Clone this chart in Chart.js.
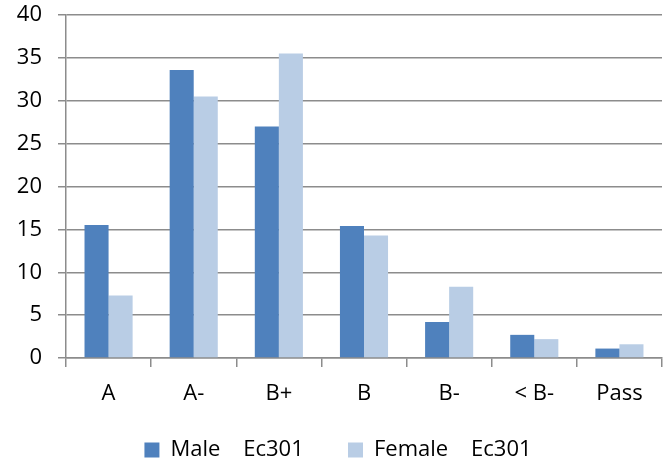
<!DOCTYPE html>
<html>
<head>
<meta charset="utf-8">
<script src="https://cdn.jsdelivr.net/npm/chart.js@4/dist/chart.umd.min.js"></script>
<style>
  html, body { margin: 0; padding: 0; background: #fff; }
  #wrap { width: 670px; height: 463px; }
</style>
</head>
<body>
<div id="wrap"><canvas id="c" width="670" height="463"></canvas></div>
<script>
// Grade distribution for Ec301 by gender (percent of students)
const grades = ['A', 'A-', 'B+', 'B', 'B-', '< B-', 'Pass'];
const maleValues = [15.5, 33.6, 27.0, 15.4, 4.2, 2.7, 1.1];
const femaleValues = [7.3, 30.5, 35.5, 14.3, 8.3, 2.2, 1.6];
const seriesNames = ['Male    Ec301      ', 'Female    Ec301'];
const yTicks = { min: 0, max: 40, step: 5 };

const FONT = '"Open Sans", Lato, sans-serif';
const gridGray = '#8c8c8c';

// nudge the legend row a little to the right of the canvas centre
const legendShift = {
  id: 'legendShift',
  afterLayout(chart) {
    const lg = chart.legend;
    if (lg) { lg.left += 7; lg.right += 7; }
  }
};

new Chart(document.getElementById('c'), {
  type: 'bar',
  data: {
    labels: grades,
    datasets: [
      { label: seriesNames[0], data: maleValues, backgroundColor: '#4F81BD', borderWidth: 0 },
      { label: seriesNames[1], data: femaleValues, backgroundColor: '#B9CDE5', borderWidth: 0 }
    ]
  },
  plugins: [legendShift],
  options: {
    responsive: false,
    animation: false,
    devicePixelRatio: 1,
    layout: { padding: { top: 15, right: 8, left: 0, bottom: -8 } },
    datasets: { bar: { categoryPercentage: 0.565, barPercentage: 1.0 } },
    plugins: {
      tooltip: { enabled: false },
      legend: {
        position: 'bottom',
        labels: {
          font: { family: FONT, size: 22 },
          color: '#000',
          boxWidth: 15,
          boxHeight: 15,
          padding: 10
        }
      }
    },
    scales: {
      x: {
        grid: { drawOnChartArea: false, drawTicks: true, tickLength: 9, color: gridGray, lineWidth: 1.5, offset: true },
        border: { color: gridGray, width: 1.5 },
        ticks: { font: { family: FONT, size: 22 }, color: '#000', padding: 14 },
        afterFit: (s) => { s.height = 71; }
      },
      y: {
        min: yTicks.min,
        max: yTicks.max,
        ticks: { stepSize: yTicks.step, font: { family: FONT, size: 22 }, color: '#000', padding: 16 },
        grid: { color: gridGray, lineWidth: 1.5, tickLength: 8 },
        border: { color: gridGray, width: 1.5 },
        afterFit: (s) => { s.width = 66; s.paddingTop = 0; s.paddingBottom = 0; }
      }
    }
  }
});
</script>
</body>
</html>
